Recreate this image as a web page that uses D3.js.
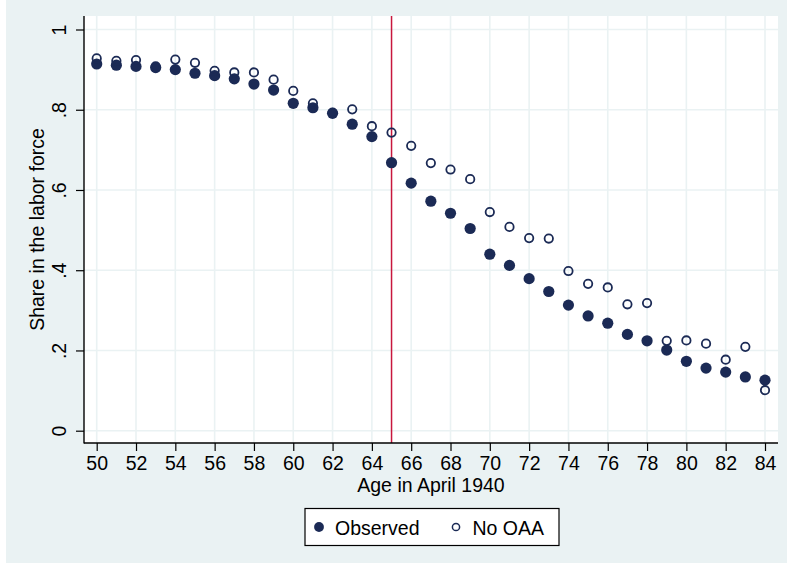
<!DOCTYPE html>
<html>
<head>
<meta charset="utf-8">
<script src="https://cdn.jsdelivr.net/npm/d3@7"></script>
<style>
  html, body { margin: 0; padding: 0; background: #ffffff; }
  svg { display: block; }
  text { font-family: "Liberation Sans", Arial, Helvetica, sans-serif; fill: #000; }
</style>
</head>
<body>
<div id="chart"></div>
<script>
// ---- data ----
const ages = [50,51,52,53,54,55,56,57,58,59,60,61,62,63,64,65,66,67,68,69,70,71,72,73,74,75,76,77,78,79,80,81,82,83,84];
const observed = [0.914,0.911,0.908,0.905,0.900,0.891,0.885,0.877,0.864,0.849,0.816,0.805,0.791,0.764,0.733,0.668,
                  0.617,0.572,0.542,0.504,0.440,0.412,0.379,0.347,0.313,0.286,0.268,0.240,0.224,0.201,0.173,0.156,0.146,0.134,0.126];
const noOAA = [0.928,0.922,0.924,0.908,0.925,0.917,0.897,0.893,0.893,0.875,0.847,0.816,0.793,0.801,0.759,0.743,
               0.710,0.667,0.651,0.627,0.545,0.508,0.480,0.479,0.398,0.366,0.357,0.315,0.318,0.224,0.225,0.217,0.177,0.209,0.101];
const xTicks = [50,52,54,56,58,60,62,64,66,68,70,72,74,76,78,80,82,84];
const yTicks = [0,0.2,0.4,0.6,0.8,1];
const yTickLabels = ["0",".2",".4",".6",".8","1"];
const cutoffAge = 65;
const seriesNames = ["Observed","No OAA"];
const xTitle = "Age in April 1940";
const yTitle = "Share in the labor force";

// ---- layout ----
const W = 787, H = 573;
const plotL = 84, plotR = 778, plotT = 16, plotB = 443;
const navy = "#1b2a55";
const bg = "#eaf2f3";
const FS = "19.5px";

const svg = d3.select("#chart").append("svg").attr("width", W).attr("height", H);

// outer background
svg.append("rect").attr("x", 6).attr("y", 0).attr("width", W - 6).attr("height", 563).attr("fill", bg);
// plot region
svg.append("rect").attr("x", plotL).attr("y", plotT).attr("width", plotR - plotL).attr("height", plotB - plotT).attr("fill", "#ffffff");

const x = d3.scaleLinear().domain([50, 84]).range([96.7, 765]);
const y = d3.scaleLinear().domain([0, 1]).range([430.7, 29.5]);

// gridlines
const grid = svg.append("g");
grid.selectAll("line.v").data(xTicks).join("line")
  .attr("x1", d => x(d)).attr("x2", d => x(d))
  .attr("y1", plotT).attr("y2", plotB)
  .attr("stroke", bg).attr("stroke-width", 1.6);
grid.selectAll("line.h").data(yTicks).join("line")
  .attr("x1", plotL).attr("x2", plotR)
  .attr("y1", d => y(d)).attr("y2", d => y(d))
  .attr("stroke", bg).attr("stroke-width", 1.6);

// reference line at 65
svg.append("line")
  .attr("x1", x(cutoffAge)).attr("x2", x(cutoffAge))
  .attr("y1", plotT).attr("y2", plotB)
  .attr("stroke", "#c8173d").attr("stroke-width", 1.5);

// axes
const xAxis = d3.axisBottom(x).tickValues(xTicks).tickSize(8).tickPadding(4).tickFormat(d3.format("d"));
const gx = svg.append("g").attr("transform", `translate(0,${plotB})`).call(xAxis);
gx.select(".domain").remove();
gx.selectAll(".tick line").attr("stroke", "#000").attr("stroke-width", 1.2);
gx.selectAll(".tick text").attr("font-size", FS).attr("dy", null).attr("y", 27)
  .style("font-family", '"Liberation Sans", Arial, sans-serif').attr("fill", "#000");

const yAxis = d3.axisLeft(y).tickValues(yTicks).tickSize(8).tickFormat((d, i) => yTickLabels[i]);
const gy = svg.append("g").attr("transform", `translate(${plotL},0)`).call(yAxis);
gy.select(".domain").remove();
gy.selectAll(".tick line").attr("stroke", "#000").attr("stroke-width", 1.2);
gy.selectAll(".tick text")
  .attr("x", null).attr("dy", null)
  .attr("transform", "translate(-18,0) rotate(-90)")
  .attr("text-anchor", "middle")
  .attr("font-size", FS)
  .style("font-family", '"Liberation Sans", Arial, sans-serif').attr("fill", "#000");

// axis lines
svg.append("line").attr("x1", plotL).attr("x2", plotL).attr("y1", plotT).attr("y2", plotB + 0.6)
  .attr("stroke", "#000").attr("stroke-width", 1.4);
svg.append("line").attr("x1", plotL).attr("x2", plotR).attr("y1", plotB).attr("y2", plotB)
  .attr("stroke", "#000").attr("stroke-width", 1.4);

// titles
svg.append("text").attr("x", (plotL + plotR) / 2).attr("y", 491.5).attr("text-anchor", "middle")
  .attr("font-size", FS).text(xTitle);
svg.append("text").attr("transform", `translate(44,${(plotT + plotB) / 2}) rotate(-90)`)
  .attr("text-anchor", "middle").attr("font-size", FS).text(yTitle);

// points
const obsData = ages.map((a, i) => ({ a, v: observed[i] }));
const noData = ages.map((a, i) => ({ a, v: noOAA[i] }));
svg.append("g").selectAll("circle").data(obsData).join("circle")
  .attr("cx", d => x(d.a)).attr("cy", d => y(d.v)).attr("r", 5.6).attr("fill", navy);
svg.append("g").selectAll("circle").data(noData).join("circle")
  .attr("cx", d => x(d.a)).attr("cy", d => y(d.v)).attr("r", 4.2)
  .attr("fill", "none").attr("stroke", navy).attr("stroke-width", 1.8);

// legend
const lg = svg.append("g");
lg.append("rect").attr("x", 305).attr("y", 508.5).attr("width", 254).attr("height", 37)
  .attr("fill", "#fff").attr("stroke", "#000").attr("stroke-width", 1.2);
lg.append("circle").attr("cx", 319).attr("cy", 527).attr("r", 4.9).attr("fill", navy);
lg.append("text").attr("x", 335).attr("y", 535).attr("font-size", FS).text(seriesNames[0]);
lg.append("circle").attr("cx", 456).attr("cy", 527).attr("r", 3.6)
  .attr("fill", "none").attr("stroke", navy).attr("stroke-width", 1.5);
lg.append("text").attr("x", 472.5).attr("y", 535).attr("font-size", FS).text(seriesNames[1]);
</script>
</body>
</html>
